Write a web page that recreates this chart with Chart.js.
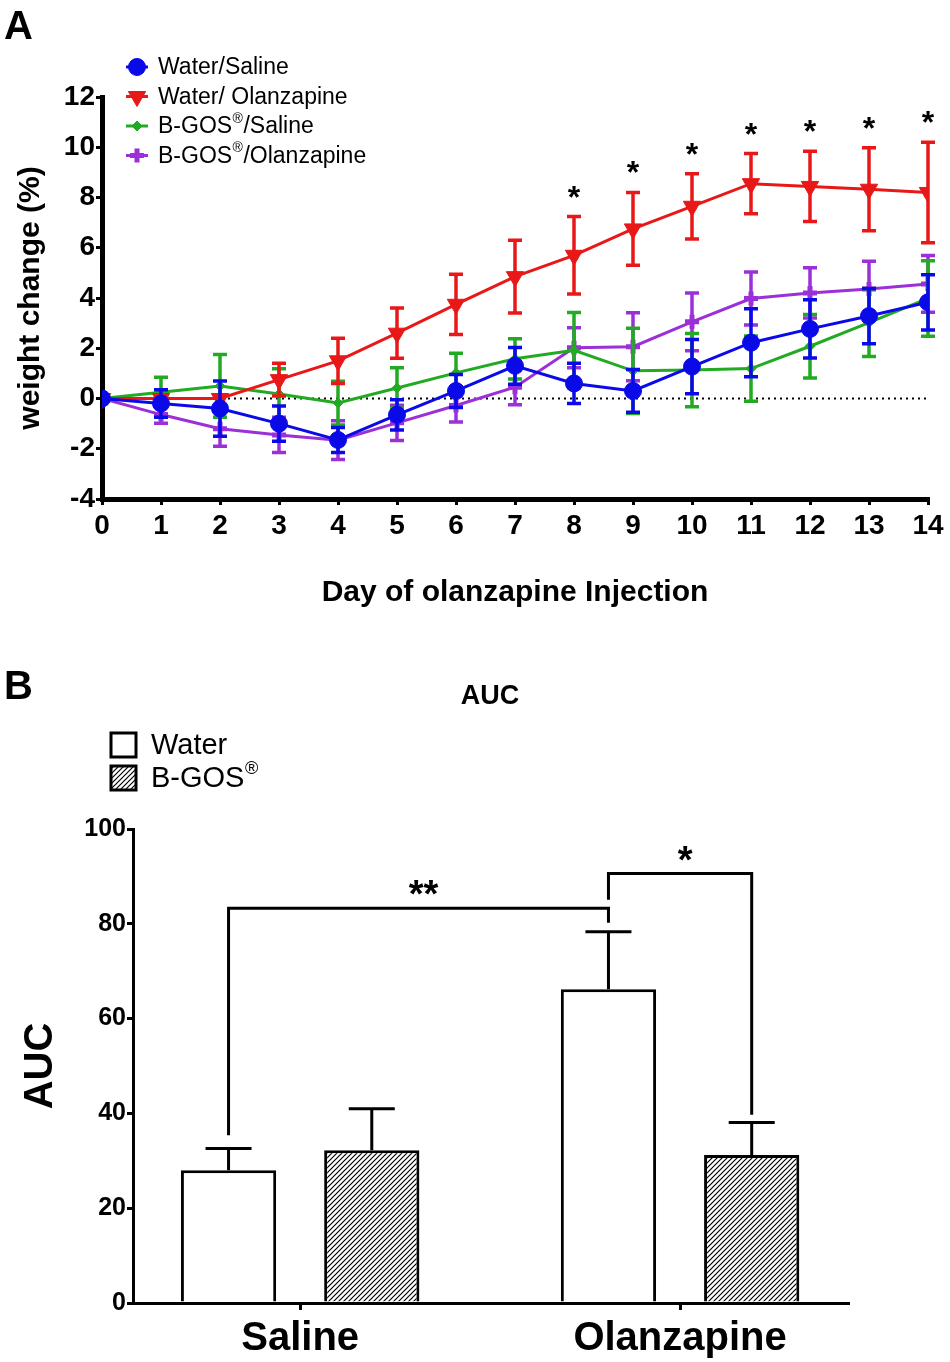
<!DOCTYPE html>
<html>
<head>
<meta charset="utf-8">
<title>Weight change and AUC</title>
<script src="https://cdn.jsdelivr.net/npm/chart.js@4.4.1/dist/chart.umd.min.js"></script>
<style>
  html, body { margin:0; padding:0; background:#fff; }
  body { position:relative; width:950px; height:1362px; overflow:hidden; font-family:"Liberation Sans", Arial, sans-serif; }
  canvas { position:absolute; left:0; }
  #chartA { top:0; }
  #chartB { top:640px; }
  .panel { position:absolute; left:4px; font:bold 40px/40px "Liberation Sans", Arial, sans-serif; color:#000; }
</style>
</head>
<body>
<canvas id="chartA" width="950" height="640"></canvas>
<canvas id="chartB" width="950" height="722"></canvas>
<div class="panel" style="top:5px">A</div>
<div class="panel" style="top:665px">B</div>
<script>
/* ========= Datos panel A: % cambio de peso ========= */
const days = [0,1,2,3,4,5,6,7,8,9,10,11,12,13,14];
const seriesNames = ['Water/Saline', 'Water/ Olanzapine', 'B-GOS®/Saline', 'B-GOS®/Olanzapine'];

const waterSaline     = [0, -0.2, -0.4, -1.0, -1.65, -0.65, 0.3, 1.3, 0.6, 0.3, 1.27, 2.22, 2.77, 3.28, 3.83];
const waterSalineErr  = [0, 0.55, 1.1, 0.7, 0.5, 0.6, 0.66, 0.73, 0.8, 0.85, 1.08, 1.35, 1.16, 1.1, 1.1];
const waterOlanz      = [0, 0, 0, 0.75, 1.5, 2.6, 3.75, 4.85, 5.7, 6.75, 7.65, 8.55, 8.44, 8.33, 8.2];
const waterOlanzErr   = [0, 0, 0, 0.65, 0.9, 1.0, 1.2, 1.45, 1.54, 1.45, 1.3, 1.2, 1.4, 1.65, 2.0];
const gosSaline       = [0, 0.25, 0.5, 0.18, -0.18, 0.42, 1.02, 1.58, 1.92, 1.1, 1.13, 1.19, 2.08, 3.02, 3.98];
const gosSalineErr    = [0, 0.6, 1.25, 1.0, 0.87, 0.8, 0.78, 0.8, 1.5, 1.7, 1.46, 1.3, 1.26, 1.35, 1.5];
const gosOlanz        = [0, -0.64, -1.2, -1.45, -1.66, -0.97, -0.28, 0.45, 2.02, 2.06, 3.05, 3.98, 4.2, 4.36, 4.56];
const gosOlanzErr     = [0, 0.35, 0.7, 0.7, 0.77, 0.7, 0.66, 0.7, 0.8, 1.35, 1.15, 1.05, 1.0, 1.1, 1.13];
const sigDays = [8, 9, 10, 11, 12, 13, 14];

/* ========= Datos panel B: AUC ========= */
const groups      = ['Saline', 'Olanzapine'];
const barNames    = ['Water', 'B-GOS®'];
const waterAUC    = [28.0, 66.2];
const waterAUCErr = [4.6, 12.1];
const gosAUC      = [32.2, 31.2];
const gosAUCErr   = [8.8, 6.9];
// brackets de significancia: [grupo, barra] de cada pata, altura, extremos de las patas
const sigLabels = ['**', '*'];
const sigFrom   = [[0, 0], [1, 0]];
const sigTo     = [[1, 0], [1, 1]];
const sigTop    = [83.3, 90.6];
const sigLegs   = [[35.4, 80.2], [85.1, 39.7]];

/* ========= Estilos ========= */
const FONT = '"Liberation Sans", Arial, sans-serif';
const COLORS = ['#0a0ae8', '#e81818', '#22aa22', '#9b2fd8'];
const font = (size, weight = 'bold') => ({ family: FONT, size, weight });

function drawRich(ctx, text, x, y, size, weight = 'normal') {
  // texto con ® en superíndice
  const parts = text.split('®');
  ctx.textAlign = 'left';
  ctx.textBaseline = 'middle';
  let cx = x;
  parts.forEach((p, i) => {
    ctx.font = `${weight} ${size}px ${FONT}`;
    ctx.fillText(p, cx, y);
    cx += ctx.measureText(p).width;
    if (i < parts.length - 1) {
      ctx.font = `${weight} ${Math.round(size * 0.62)}px ${FONT}`;
      ctx.fillText('®', cx + 0.5, y - size * 0.36);
      cx += ctx.measureText('®').width + 1;
    }
  });
}

/* ========= Plugins panel A ========= */
const errorBarsA = {
  id: 'errorBarsA',
  beforeDatasetDraw(chart, args) {
    const ds = chart.data.datasets[args.index];
    if (!ds.errors) return;
    const { ctx, scales: { y } } = chart;
    ctx.save();
    ctx.strokeStyle = ds.borderColor;
    ctx.lineWidth = 3.5;
    args.meta.data.forEach((pt, i) => {
      const e = ds.errors[i];
      if (!e) return;
      const v = ds.data[i].y;
      const yt = y.getPixelForValue(v + e), yb = y.getPixelForValue(v - e);
      ctx.beginPath();
      ctx.moveTo(pt.x, yt); ctx.lineTo(pt.x, yb);
      ctx.moveTo(pt.x - 7, yt); ctx.lineTo(pt.x + 7, yt);
      ctx.moveTo(pt.x - 7, yb); ctx.lineTo(pt.x + 7, yb);
      ctx.stroke();
    });
    ctx.restore();
  }
};

const zeroLineA = {
  id: 'zeroLineA',
  beforeDatasetsDraw(chart) {
    const { ctx, scales: { x, y } } = chart;
    ctx.save();
    ctx.strokeStyle = '#000';
    ctx.lineWidth = 2;
    ctx.setLineDash([2, 4]);
    ctx.beginPath();
    ctx.moveTo(x.getPixelForValue(days[0]), y.getPixelForValue(0));
    ctx.lineTo(x.getPixelForValue(days[days.length - 1]), y.getPixelForValue(0));
    ctx.stroke();
    ctx.restore();
  }
};

const starsA = {
  id: 'starsA',
  afterDatasetsDraw(chart) {
    const { ctx, scales: { x, y } } = chart;
    ctx.save();
    ctx.fillStyle = '#000';
    ctx.font = `bold 32px ${FONT}`;
    ctx.textAlign = 'center';
    ctx.textBaseline = 'alphabetic';
    sigDays.forEach(d => {
      const i = days.indexOf(d);
      const top = y.getPixelForValue(waterOlanz[i] + waterOlanzErr[i]);
      ctx.fillText('*', x.getPixelForValue(d), top - 9);
    });
    ctx.restore();
  }
};

const legendA = {
  id: 'legendA',
  afterDraw(chart) {
    const ctx = chart.ctx;
    ctx.save();
    chart.data.datasets.forEach((ds, i) => {
      const cy = 67 + i * 29.5, cx = 137;
      ctx.strokeStyle = ds.borderColor;
      ctx.lineWidth = 3;
      ctx.beginPath(); ctx.moveTo(cx - 11, cy); ctx.lineTo(cx + 11, cy); ctx.stroke();
      ctx.fillStyle = ds.pointBackgroundColor;
      ctx.strokeStyle = ds.pointBorderColor;
      ctx.lineWidth = ds.pointBorderWidth;
      Chart.helpers.drawPoint(ctx, {
        pointStyle: ds.pointStyle, rotation: ds.pointRotation || 0,
        radius: ds.pointRadius, borderWidth: ds.pointBorderWidth
      }, cx, cy);
      ctx.fillStyle = '#000';
      drawRich(ctx, ds.label, 158, cy + 1, 23);
    });
    ctx.restore();
  }
};

const pts = series => days.map((d, i) => ({ x: d, y: series[i] }));
const lineSet = (i, data, errors, extra) => Object.assign({
  label: seriesNames[i], data: pts(data), errors,
  borderColor: COLORS[i], backgroundColor: COLORS[i],
  pointBackgroundColor: COLORS[i], pointBorderColor: COLORS[i],
  borderWidth: 3, tension: 0, fill: false
}, extra);

new Chart(document.getElementById('chartA'), {
  type: 'line',
  data: {
    datasets: [
      lineSet(0, waterSaline, waterSalineErr, { pointStyle: 'circle', pointRadius: 8.5, pointBorderWidth: 1 }),
      lineSet(1, waterOlanz, waterOlanzErr, { pointStyle: 'triangle', pointRotation: 180, pointRadius: 10, pointBorderWidth: 1 }),
      lineSet(2, gosSaline, gosSalineErr, { pointStyle: 'rectRot', pointRadius: 5, pointBorderWidth: 1 }),
      lineSet(3, gosOlanz, gosOlanzErr, { pointStyle: 'cross', pointRadius: 7, pointBorderWidth: 5 })
    ]
  },
  options: {
    responsive: false, animation: false, devicePixelRatio: 1,
    layout: { padding: { top: 97, right: 22, left: 0, bottom: 0 } },
    plugins: { legend: { display: false }, tooltip: { enabled: false } },
    scales: {
      x: {
        type: 'linear', min: 0, max: 14, offset: false,
        afterFit(s) { s.height = 141; },
        border: { color: '#000', width: 5 },
        grid: { drawOnChartArea: false, color: '#000', lineWidth: 3, tickLength: 6 },
        ticks: { stepSize: 1, autoSkip: false, maxRotation: 0, color: '#000', padding: 4, font: font(28) },
        title: { display: true, text: 'Day of olanzapine Injection', color: '#000', font: font(30), padding: { top: 0, bottom: 29 } }
      },
      y: {
        min: -4, max: 12,
        afterFit(s) { s.width = 102; },
        border: { color: '#000', width: 5 },
        grid: { drawOnChartArea: false, color: '#000', lineWidth: 3, tickLength: 6 },
        ticks: { stepSize: 2, color: '#000', padding: 1, font: font(28) },
        title: { display: true, text: 'weight change (%)', color: '#000', font: font(30), padding: { top: 13, bottom: 0 } }
      }
    }
  },
  plugins: [zeroLineA, errorBarsA, starsA, legendA]
});

/* ========= Panel B ========= */
function hatchPattern() {
  const c = document.createElement('canvas');
  c.width = 5; c.height = 5;
  const g = c.getContext('2d');
  g.fillStyle = '#fff'; g.fillRect(0, 0, 5, 5);
  g.strokeStyle = '#000'; g.lineWidth = 1.2;
  g.beginPath();
  g.moveTo(0, 5); g.lineTo(5, 0);
  g.moveTo(-1, 1); g.lineTo(1, -1);
  g.moveTo(4, 6); g.lineTo(6, 4);
  g.stroke();
  return g.createPattern(c, 'repeat');
}
const hatch = hatchPattern();

const errorBarsB = {
  id: 'errorBarsB',
  afterDatasetDraw(chart, args) {
    const ds = chart.data.datasets[args.index];
    const { ctx, scales: { y } } = chart;
    ctx.save();
    ctx.strokeStyle = '#000';
    ctx.lineWidth = 3;
    args.meta.data.forEach((bar, i) => {
      const v = ds.data[i].y, e = ds.errors[i];
      const y0 = y.getPixelForValue(v), y1 = y.getPixelForValue(v + e);
      ctx.beginPath();
      ctx.moveTo(bar.x, y0); ctx.lineTo(bar.x, y1);
      ctx.moveTo(bar.x - 23, y1); ctx.lineTo(bar.x + 23, y1);
      ctx.stroke();
    });
    ctx.restore();
  }
};

const bracketsB = {
  id: 'bracketsB',
  afterDatasetsDraw(chart) {
    const { ctx, scales: { y } } = chart;
    const px = ([g, b]) => chart.getDatasetMeta(b).data[g].x;
    ctx.save();
    ctx.strokeStyle = '#000';
    ctx.fillStyle = '#000';
    ctx.lineWidth = 3;
    sigLabels.forEach((lab, k) => {
      const x0 = px(sigFrom[k]), x1 = px(sigTo[k]);
      const yt = y.getPixelForValue(sigTop[k]);
      ctx.beginPath();
      ctx.moveTo(x0, y.getPixelForValue(sigLegs[k][0]));
      ctx.lineTo(x0, yt); ctx.lineTo(x1, yt);
      ctx.lineTo(x1, y.getPixelForValue(sigLegs[k][1]));
      ctx.stroke();
      ctx.font = `bold 38px ${FONT}`;
      ctx.textAlign = 'center';
      ctx.textBaseline = 'alphabetic';
      ctx.fillText(lab, (x0 + x1) / 2 + 5, yt - 1);
    });
    ctx.restore();
  }
};

const legendB = {
  id: 'legendB',
  afterDraw(chart) {
    const ctx = chart.ctx;
    ctx.save();
    ctx.fillStyle = '#000';
    ctx.font = `bold 27px ${FONT}`;
    ctx.textAlign = 'center';
    ctx.textBaseline = 'middle';
    ctx.fillText('AUC', 490, 57);
    chart.data.datasets.forEach((ds, i) => {
      const top = 93 + i * 33;
      ctx.fillStyle = ds.backgroundColor;
      ctx.fillRect(111, top, 25, 24);
      ctx.strokeStyle = '#000';
      ctx.lineWidth = 3;
      ctx.strokeRect(111, top, 25, 24);
      ctx.fillStyle = '#000';
      drawRich(ctx, ds.label, 151, top + 13, 29);
    });
    ctx.restore();
  }
};

const barPts = series => groups.map((g, i) => ({ x: i, y: series[i] }));

new Chart(document.getElementById('chartB'), {
  type: 'bar',
  data: {
    datasets: [
      { label: barNames[0], data: barPts(waterAUC), errors: waterAUCErr, backgroundColor: '#fff', borderColor: '#000', borderWidth: 3 },
      { label: barNames[1], data: barPts(gosAUC), errors: gosAUCErr, backgroundColor: hatch, borderColor: '#000', borderWidth: 3 }
    ]
  },
  options: {
    responsive: false, animation: false, devicePixelRatio: 1,
    categoryPercentage: 0.754, barPercentage: 0.665,
    layout: { padding: { top: 189, right: 102, left: 0, bottom: 0 } },
    plugins: { legend: { display: false }, tooltip: { enabled: false } },
    scales: {
      x: {
        type: 'linear', min: -0.44, max: 1.442, offset: false,
        afterBuildTicks(s) { s.ticks = groups.map((g, i) => ({ value: i })); },
        afterFit(s) { s.height = 59; },
        border: { color: '#000', width: 3 },
        grid: { drawOnChartArea: false, offset: false, color: '#000', lineWidth: 3, tickLength: 7 },
        ticks: { color: '#000', padding: 5, font: font(40), maxRotation: 0, callback: (v, i) => groups[i] }
      },
      y: {
        min: 0, max: 100,
        afterFit(s) { s.width = 133; },
        border: { color: '#000', width: 3 },
        grid: { drawOnChartArea: false, color: '#000', lineWidth: 3, tickLength: 6 },
        ticks: { stepSize: 20, color: '#000', padding: 1, font: font(25) },
        title: { display: true, text: 'AUC', color: '#000', font: font(40), padding: { top: 17, bottom: 0 } }
      }
    }
  },
  plugins: [errorBarsB, bracketsB, legendB]
});
</script>
</body>
</html>
